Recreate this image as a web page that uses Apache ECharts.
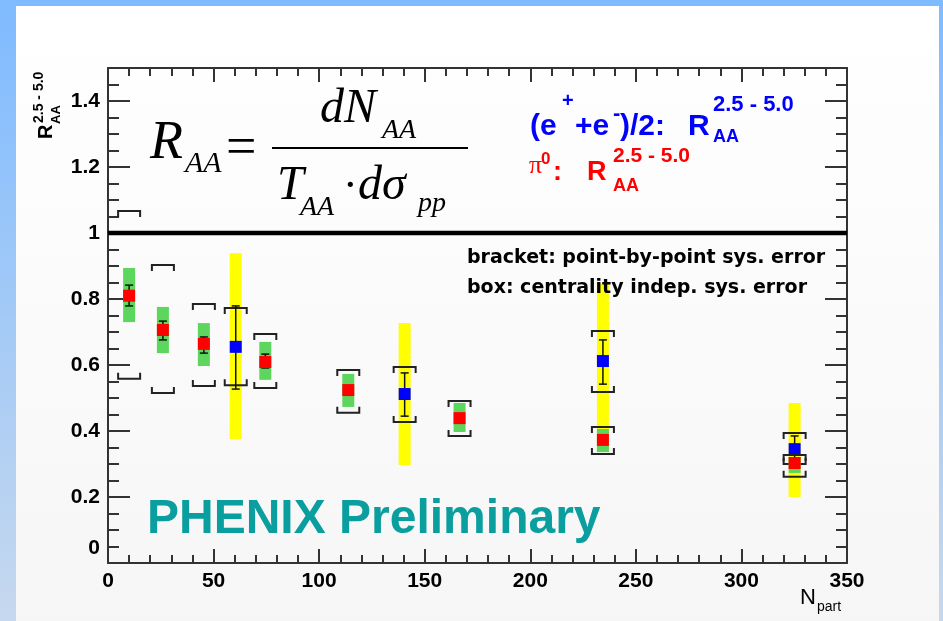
<!DOCTYPE html>
<html lang="en">
<head>
<meta charset="UTF-8">
<title>RAA vs Npart</title>
<style>
  body{
    margin: 0;
    padding: 0;
    width: 943px;
    height: 621px;
    overflow: hidden;
    position: relative;
    background: linear-gradient(#7fbbff, #c6d8ee);
  }
  .panel{
    position: absolute;
    left: 16px; top: 6px;
    width: 923px; height: 615px;
    background: linear-gradient(#ffffff, #f6f6f6);
  }
  .main{
    position: absolute;
    left: 0; top: 0;
    width: 943px; height: 621px;
  }
</style>
</head>
<body>
<div class="panel"></div>
<div class="main"></div>
<script src="https://cdn.jsdelivr.net/npm/echarts@6/dist/echarts.min.js"></script>
<script>
// pi0 R_AA (red squares, green boxes)
var pi0Npart  = [10, 26, 45.4, 74.5, 113.8, 166.5, 234.4, 325.2];
var pi0Raa    = [0.81, 0.706, 0.664, 0.609, 0.524, 0.439, 0.373, 0.303];
var pi0StatLo = [0.779, 0.676, 0.636, 0.591, 0.515, 0.430, 0.365, 0.290];
var pi0StatHi = [0.842, 0.733, 0.685, 0.633, 0.533, 0.448, 0.381, 0.310];
var pi0BoxLo  = [0.730, 0.636, 0.597, 0.555, 0.473, 0.397, 0.336, 0.273];
var pi0BoxHi  = [0.894, 0.776, 0.727, 0.670, 0.573, 0.485, 0.406, 0.321];
var pi0BrkLo  = [0.558, 0.515, 0.536, 0.530, 0.455, 0.385, 0.330, 0.261];
var pi0BrkHi  = [1.067, 0.903, 0.785, 0.694, 0.585, 0.491, 0.412, 0.327];

// (e+ + e-)/2 R_AA (blue squares, yellow boxes)
var eNpart  = [60.5, 140.5, 234.4, 325.2];
var eRaa    = [0.655, 0.512, 0.612, 0.345];
var eStatLo = [0.527, 0.445, 0.542, 0.294];
var eStatHi = [0.779, 0.576, 0.676, 0.385];
var eBoxLo  = [0.376, 0.297, 0.336, 0.200];
var eBoxHi  = [0.939, 0.727, 0.848, 0.485];
var eBrkLo  = [0.539, 0.427, 0.518, 0.300];
var eBrkHi  = [0.773, 0.594, 0.703, 0.394];

var unityLine = [[0, 1], [350, 1]];
var xTicks = {min: 0, max: 350, step: 50};
var yTicks = {min: 0, max: 1.5, step: 0.2, minor: 0.05};

function rows(n, r, sl, sh, bl, bh, kl, kh){
  return n.map(function(v, i){ return [v, r[i], sl[i], sh[i], bl[i], bh[i], kl[i], kh[i]]; });
}

// box + bracket + stat bar + marker for one point
function errItem(fill, boxFill){
  return function(params, api){
    var x = api.value(0);
    var c = api.coord([x, api.value(1)]);
    var sLo = api.coord([x, api.value(2)])[1], sHi = api.coord([x, api.value(3)])[1];
    var bLo = api.coord([x, api.value(4)])[1], bHi = api.coord([x, api.value(5)])[1];
    var kLo = api.coord([x, api.value(6)])[1], kHi = api.coord([x, api.value(7)])[1];
    var px = c[0];
    var ink = {stroke: '#222', lineWidth: 2, fill: null};
    var bar = {stroke: '#111', lineWidth: 1.5};
    return {type: 'group', children: [
      {type: 'rect', shape: {x: px - 6, y: bHi, width: 12, height: bLo - bHi}, style: {fill: boxFill}},
      {type: 'polyline', shape: {points: [[px - 11, kHi + 6], [px - 11, kHi], [px + 11, kHi], [px + 11, kHi + 6]]}, style: ink},
      {type: 'polyline', shape: {points: [[px - 11, kLo - 6], [px - 11, kLo], [px + 11, kLo], [px + 11, kLo - 6]]}, style: ink},
      {type: 'line', shape: {x1: px, y1: sLo, x2: px, y2: sHi}, style: bar},
      {type: 'line', shape: {x1: px - 4, y1: sLo, x2: px + 4, y2: sLo}, style: bar},
      {type: 'line', shape: {x1: px - 4, y1: sHi, x2: px + 4, y2: sHi}, style: bar},
      {type: 'rect', shape: {x: px - 6, y: c[1] - 6, width: 12, height: 12}, style: {fill: fill}}
    ]};
  };
}

function txt(s, x, base, size, o){
  o = o || {};
  return {type: 'text', x: x, y: base - size * 0.34, z: 20,
    style: {text: s, fill: o.fill || '#000',
      font: (o.italic ? 'italic ' : '') + (o.bold ? 'bold ' : '') + size + 'px ' + (o.family || '"Liberation Sans"'),
      verticalAlign: 'middle', align: o.align || 'left'}};
}

var ink = '#333';
var labelFont = {color: '#000', fontFamily: 'Liberation Sans', fontWeight: 'bold', fontSize: 21};

function xAx(pos, labels){
  return {type: 'value', gridIndex: 0, position: pos, min: xTicks.min, max: xTicks.max, interval: xTicks.step,
    axisLine: {onZero: false, lineStyle: {color: ink, width: 2}},
    axisTick: {inside: true, length: 14, lineStyle: {color: ink, width: 2}},
    minorTick: {show: true, splitNumber: 5, length: 8, lineStyle: {color: ink, width: 2}},
    splitLine: {show: false},
    axisLabel: labels ? Object.assign({margin: 8}, labelFont) : {show: false}};
}
function yAx(grid, pos, step, len, labels){
  return {type: 'value', gridIndex: grid, position: pos, min: yTicks.min, max: yTicks.max, interval: step,
    axisLine: {show: grid === 0, onZero: false, lineStyle: {color: ink, width: 2}},
    axisTick: {inside: true, length: len, lineStyle: {color: ink, width: 2}},
    splitLine: {show: false},
    axisLabel: labels ? Object.assign({margin: 8, showMaxLabel: false,
      formatter: function(v){ return v === 0 ? '{z|0}' : String(+v.toFixed(1)); },
      rich: {z: {padding: [0, 0, 30, 0], fontSize: 21, fontWeight: 'bold', fontFamily: 'Liberation Sans'}}}, labelFont) : {show: false}};
}
function xHidden(){
  return {type: 'value', gridIndex: 1, min: xTicks.min, max: xTicks.max, show: false};
}

var myChart = echarts.init(document.querySelector('.main'), null, {renderer: 'canvas'});

var option = {
  backgroundColor: 'transparent',
  animation: false,
  grid: [
    {left: 108, top: 68, right: 96, bottom: 58},
    {left: 108, top: 68, right: 96, bottom: 58}
  ],
  xAxis: [xAx('bottom', true), xAx('top', false), xHidden()],
  yAxis: [
    yAx(0, 'left', yTicks.step, 22, true),
    yAx(0, 'right', yTicks.step, 22, false),
    yAx(1, 'left', yTicks.minor, 11, false),
    yAx(1, 'right', yTicks.minor, 11, false)
  ],
  series: [
    {type: 'line', xAxisIndex: 0, yAxisIndex: 0, data: unityLine, symbol: 'none', z: 1,
      lineStyle: {color: '#000', width: 4.5}},
    {type: 'custom', xAxisIndex: 0, yAxisIndex: 0, z: 3, encode: {x: 0, y: 1},
      renderItem: errItem('#0000ff', '#ffff00'),
      data: rows(eNpart, eRaa, eStatLo, eStatHi, eBoxLo, eBoxHi, eBrkLo, eBrkHi)},
    {type: 'custom', xAxisIndex: 0, yAxisIndex: 0, z: 4, encode: {x: 0, y: 1},
      renderItem: errItem('#ff0000', '#5cd65c'),
      data: rows(pi0Npart, pi0Raa, pi0StatLo, pi0StatHi, pi0BoxLo, pi0BoxHi, pi0BrkLo, pi0BrkHi)}
  ],
  graphic: [
    // y axis title, rotated
    {type: 'group', x: 53, y: 139, rotation: Math.PI / 2, children: [
      txt('R', 0, 0, 20, {bold: true}),
      txt('AA', 15, 8, 13, {bold: true}),
      txt('2.5 - 5.0', 16, -9, 14, {bold: true})
    ]},
    // x axis title
    txt('N', 800, 605, 22),
    txt('part', 817, 612, 14),
    // formula
    txt('R', 150, 162, 54, {italic: true, family: '"Liberation Serif"'}),
    txt('AA', 185, 174, 30, {italic: true, family: '"Liberation Serif"'}),
    txt('=', 226, 168, 54, {family: '"Liberation Serif"'}),
    {type: 'line', z: 20, shape: {x1: 272, y1: 148, x2: 468, y2: 148}, style: {stroke: '#000', lineWidth: 2}},
    txt('dN', 320, 126, 48, {italic: true, family: '"Liberation Serif"'}),
    txt('AA', 382, 140, 28, {italic: true, family: '"Liberation Serif"'}),
    txt('T', 277, 203, 48, {italic: true, family: '"Liberation Serif"'}),
    txt('AA', 300, 217, 28, {italic: true, family: '"Liberation Serif"'}),
    txt('\u00b7', 343, 202, 44, {family: '"Liberation Serif"'}),
    txt('d\u03c3', 358, 203, 48, {italic: true, family: '"Liberation Serif"'}),
    txt('pp', 418, 213, 28, {italic: true, family: '"Liberation Serif"'}),
    // legend, blue
    txt('(e', 530, 137, 30, {bold: true, fill: '#0000ff'}),
    txt('+', 562, 108, 20, {bold: true, fill: '#0000ff'}),
    txt('+e', 575, 137, 30, {bold: true, fill: '#0000ff'}),
    txt('-', 613, 121, 22, {bold: true, fill: '#0000ff'}),
    txt(')/2:', 620, 137, 30, {bold: true, fill: '#0000ff'}),
    txt('R', 688, 137, 30, {bold: true, fill: '#0000ff'}),
    txt('2.5 - 5.0', 713, 112, 22, {bold: true, fill: '#0000ff'}),
    txt('AA', 713, 143, 18, {bold: true, fill: '#0000ff'}),
    // legend, red
    txt('\u03c0', 529, 175, 26, {fill: '#ff0000', family: '"Liberation Serif"'}),
    txt('0', 541, 165, 17, {bold: true, fill: '#ff0000'}),
    txt(':', 553, 182, 27, {bold: true, fill: '#ff0000'}),
    txt('R', 587, 182, 27, {bold: true, fill: '#ff0000'}),
    txt('2.5 - 5.0', 613, 163, 21, {bold: true, fill: '#ff0000'}),
    txt('AA', 613, 192, 18, {bold: true, fill: '#ff0000'}),
    // notes
    txt('bracket: point-by-point sys. error', 467, 265, 19, {bold: true, family: '"DejaVu Sans"'}),
    txt('box: centrality indep. sys. error', 467, 295, 19, {bold: true, family: '"DejaVu Sans"'}),
    txt('PHENIX Preliminary', 147, 536, 48, {bold: true, fill: '#0b9e9e'})
  ]
};

myChart.setOption(option);
</script>
</body>
</html>
